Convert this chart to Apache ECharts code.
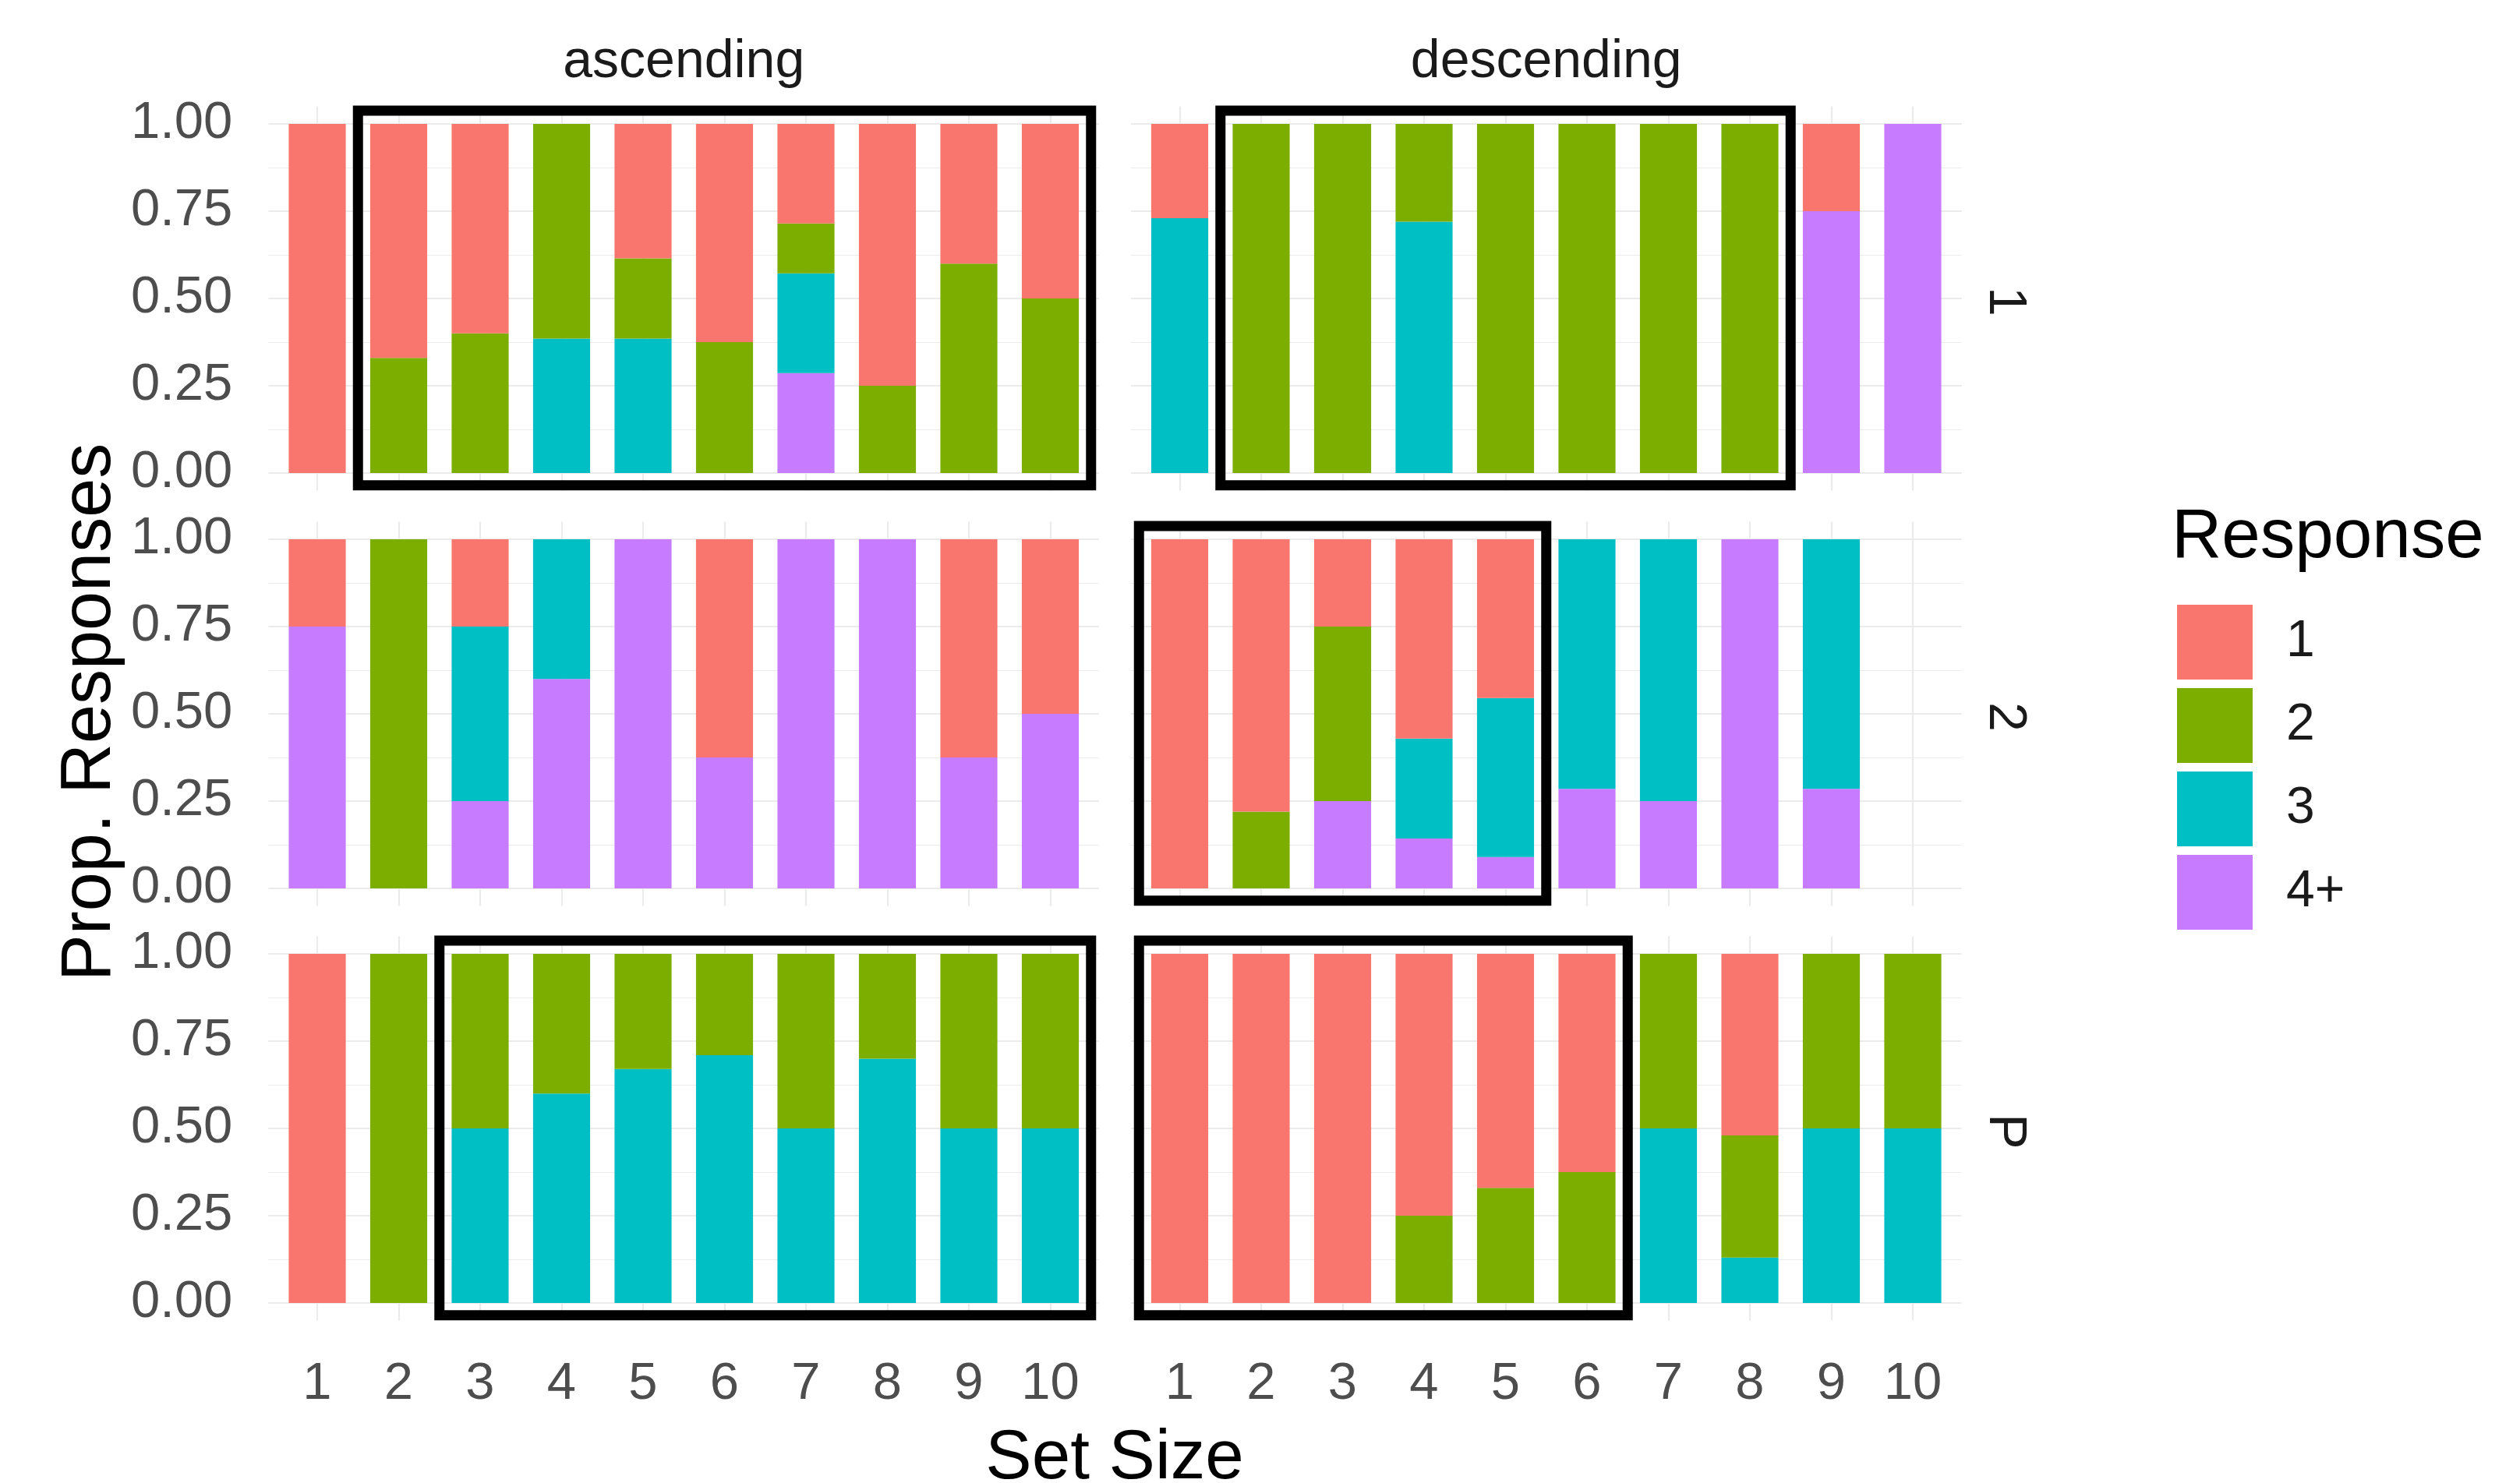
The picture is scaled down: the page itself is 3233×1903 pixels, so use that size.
<!DOCTYPE html>
<html><head><meta charset="utf-8">
<script src="https://cdn.jsdelivr.net/npm/echarts@6/dist/echarts.min.js"></script>
<style>html,body{margin:0;padding:0;background:#fff}#c{width:3233px;height:1903px}</style>
</head><body><div id="c"></div><script>
// ---------- data ----------
const setSizes = ['1','2','3','4','5','6','7','8','9','10'];
const responses = ['1','2','3','4+'];
const orders = ['ascending','descending'];
const conditions = ['1','2','P'];
const yTicks = [0, 0.25, 0.5, 0.75, 1];

// condition 1, ascending
const asc1_r1 = [1, 0.67, 0.6, 0, 0.385, 0.625, 0.285, 0.75, 0.4, 0.5];
const asc1_r2 = [0, 0.33, 0.4, 0.615, 0.23, 0.375, 0.143, 0.25, 0.6, 0.5];
const asc1_r3 = [0, 0, 0, 0.385, 0.385, 0, 0.286, 0, 0, 0];
const asc1_r4 = [0, 0, 0, 0, 0, 0, 0.286, 0, 0, 0];
// condition 1, descending
const desc1_r1 = [0.27, 0, 0, 0, 0, 0, 0, 0, 0.25, 0];
const desc1_r2 = [0, 1, 1, 0.28, 1, 1, 1, 1, 0, 0];
const desc1_r3 = [0.73, 0, 0, 0.72, 0, 0, 0, 0, 0, 0];
const desc1_r4 = [0, 0, 0, 0, 0, 0, 0, 0, 0.75, 1];
// condition 2, ascending
const asc2_r1 = [0.25, 0, 0.25, 0, 0, 0.625, 0, 0, 0.625, 0.5];
const asc2_r2 = [0, 1, 0, 0, 0, 0, 0, 0, 0, 0];
const asc2_r3 = [0, 0, 0.5, 0.4, 0, 0, 0, 0, 0, 0];
const asc2_r4 = [0.75, 0, 0.25, 0.6, 1, 0.375, 1, 1, 0.375, 0.5];
// condition 2, descending
const desc2_r1 = [1, 0.78, 0.25, 0.571, 0.455, 0, 0, 0, 0, 0];
const desc2_r2 = [0, 0.22, 0.5, 0, 0, 0, 0, 0, 0, 0];
const desc2_r3 = [0, 0, 0, 0.286, 0.455, 0.715, 0.75, 0, 0.715, 0];
const desc2_r4 = [0, 0, 0.25, 0.143, 0.09, 0.285, 0.25, 1, 0.285, 0];
// condition P, ascending
const ascP_r1 = [1, 0, 0, 0, 0, 0, 0, 0, 0, 0];
const ascP_r2 = [0, 1, 0.5, 0.4, 0.33, 0.29, 0.5, 0.3, 0.5, 0.5];
const ascP_r3 = [0, 0, 0.5, 0.6, 0.67, 0.71, 0.5, 0.7, 0.5, 0.5];
const ascP_r4 = [0, 0, 0, 0, 0, 0, 0, 0, 0, 0];
// condition P, descending
const descP_r1 = [1, 1, 1, 0.75, 0.67, 0.625, 0, 0.52, 0, 0];
const descP_r2 = [0, 0, 0, 0.25, 0.33, 0.375, 0.5, 0.35, 0.5, 0.5];
const descP_r3 = [0, 0, 0, 0, 0, 0, 0.5, 0.13, 0.5, 0.5];
const descP_r4 = [0, 0, 0, 0, 0, 0, 0, 0, 0, 0];

// highlighted ranges (row, col, first set size, last set size)
const highlightBoxes = [
  {row: 0, col: 0, from: 2, to: 10},
  {row: 0, col: 1, from: 2, to: 8},
  {row: 1, col: 1, from: 1, to: 5},
  {row: 2, col: 0, from: 3, to: 10},
  {row: 2, col: 1, from: 1, to: 6}
];

const panelData = [
  [[asc1_r1, asc1_r2, asc1_r3, asc1_r4], [desc1_r1, desc1_r2, desc1_r3, desc1_r4]],
  [[asc2_r1, asc2_r2, asc2_r3, asc2_r4], [desc2_r1, desc2_r2, desc2_r3, desc2_r4]],
  [[ascP_r1, ascP_r2, ascP_r3, ascP_r4], [descP_r1, descP_r2, descP_r3, descP_r4]]
];

// ---------- style / layout ----------
const colors = ['#F8766D', '#7CAE00', '#00BFC4', '#C77CFF'];
const FONT = '"Liberation Sans", Arial, sans-serif';
const U = 104.5;                 // px per category
const colFirstCenter = [407, 1513.5];
const rowZero = [607, 1140, 1672];
const H = 448;                   // px per 1.0
const gridColor = '#EBEBEB';

const grids = [], xAxes = [], yAxes = [], series = [];
function addAxes(grid, xa, ya) {
  grids.push(Object.assign({containLabel: false, outerBoundsMode: 'none'}, grid));
  const gi = grids.length - 1;
  xAxes.push(Object.assign({gridIndex: gi}, xa));
  yAxes.push(Object.assign({gridIndex: gi}, ya));
  return gi;
}
const hidden = {axisLine: {show: false}, axisTick: {show: false}, axisLabel: {show: false}, splitLine: {show: false}};

const barAxisIdx = {};
for (let r = 0; r < 3; r++) {
  for (let c = 0; c < 2; c++) {
    const c1 = colFirstCenter[c];
    const top = rowZero[r] - H;
    // horizontal grid lines + y labels (panel width incl. expansion)
    addAxes({left: c1 - 0.6 * U, width: 10.2 * U, top: top, height: H},
      Object.assign({type: 'value', min: 0, max: 1}, hidden),
      {type: 'value', min: 0, max: 1, interval: 0.25,
       axisLine: {show: false}, axisTick: {show: false},
       axisLabel: {show: c === 0, fontSize: 67, fontFamily: FONT, color: '#4D4D4D', margin: 46,
                   padding: [10, 0, 0, 0],
                   formatter: v => yTicks.includes(v) ? v.toFixed(2) : ''},
       splitLine: {show: true, lineStyle: {color: gridColor, width: 2.2}},
       minorTick: {show: false, splitNumber: 2},
       minorSplitLine: {show: true, lineStyle: {color: gridColor, width: 1.1}}});
    // vertical grid lines at category centres (full expanded panel height)
    addAxes({left: c1, width: 9 * U, top: top - 0.05 * H, height: 1.1 * H},
      {type: 'category', data: setSizes, boundaryGap: false,
       axisLine: {show: false}, axisTick: {show: false}, axisLabel: {show: false},
       splitLine: {show: true, lineStyle: {color: gridColor, width: 2.2}}},
      Object.assign({type: 'value', min: 0, max: 1}, hidden));
    // bars
    const gi = addAxes({left: c1 - 0.5 * U, width: 10 * U, top: top, height: H},
      {type: 'category', data: setSizes,
       axisLine: {show: false}, axisTick: {show: false}, splitLine: {show: false},
       axisLabel: {show: r === 2, fontSize: 67, fontFamily: FONT, color: '#4D4D4D', margin: 71}},
      Object.assign({type: 'value', min: 0, max: 1}, hidden));
    barAxisIdx[r + '_' + c] = gi;
    const vals = panelData[r][c];
    for (let k = 3; k >= 0; k--) {
      series.push({
        type: 'bar', name: responses[k], stack: 'p' + r + c,
        xAxisIndex: gi, yAxisIndex: gi, barWidth: '70%',
        itemStyle: {color: colors[k]}, emphasis: {disabled: true},
        data: vals[k], silent: true
      });
    }
  }
}

// highlight boxes (drawn through the panel's scales)
const BOX_TOP = 1.038, BOX_BOTTOM = -0.035;
highlightBoxes.forEach(b => {
  const gi = barAxisIdx[b.row + '_' + b.col];
  series.push({
    type: 'custom', xAxisIndex: gi, yAxisIndex: gi, z: 10, silent: true, clip: false,
    data: [[b.from - 1, 0.5, b.to - 1]],
    renderItem: (params, api) => {
      const bw = api.size([1, 0])[0];
      const a = api.coord([api.value(0), BOX_TOP]);
      const z = api.coord([api.value(2), BOX_BOTTOM]);
      return {type: 'rect',
        shape: {x: a[0] - bw / 2, y: a[1], width: z[0] - a[0] + bw, height: z[1] - a[1]},
        style: {fill: null, stroke: '#000', lineWidth: 13}};
    }
  });
});

const graphics = [];
// strip titles (top)
orders.forEach((o, c) => {
  graphics.push({type: 'text', x: colFirstCenter[c] + 4.5 * U, y: 80,
    style: {text: o, font: '68px ' + FONT, fill: '#1A1A1A', align: 'center', verticalAlign: 'middle'}});
});
// strip titles (right)
conditions.forEach((t, r) => {
  graphics.push({type: 'text', x: 2572, y: rowZero[r] - H / 2 + 4, rotation: -Math.PI / 2,
    style: {text: t, font: '68px ' + FONT, fill: '#1A1A1A', align: 'center', verticalAlign: 'middle'}});
});
// axis titles
graphics.push({type: 'text', x: 116, y: 914, rotation: Math.PI / 2,
  style: {text: 'Prop. Responses', font: '90px ' + FONT, fill: '#000', align: 'center', verticalAlign: 'middle'}});
graphics.push({type: 'text', x: 1430, y: 1872,
  style: {text: 'Set Size', font: '89px ' + FONT, fill: '#000', align: 'center', verticalAlign: 'middle'}});
// legend title
graphics.push({type: 'text', x: 2786, y: 690,
  style: {text: 'Response', font: '89px ' + FONT, fill: '#000', align: 'left', verticalAlign: 'middle'}});

const chart = echarts.init(document.getElementById('c'), null, {renderer: 'canvas'});
chart.setOption({
  animation: false,
  backgroundColor: '#fff',
  grid: grids, xAxis: xAxes, yAxis: yAxes, series: series,
  legend: {
    data: responses, orient: 'vertical', left: 2788, top: 771,
    icon: 'rect', itemWidth: 97, itemHeight: 96, itemGap: 11,
    selectedMode: false,
    textStyle: {fontSize: 66, fontFamily: FONT, color: '#1A1A1A', padding: [28, 0, 0, 38]}
  },
  graphic: graphics
});
</script></body></html>
